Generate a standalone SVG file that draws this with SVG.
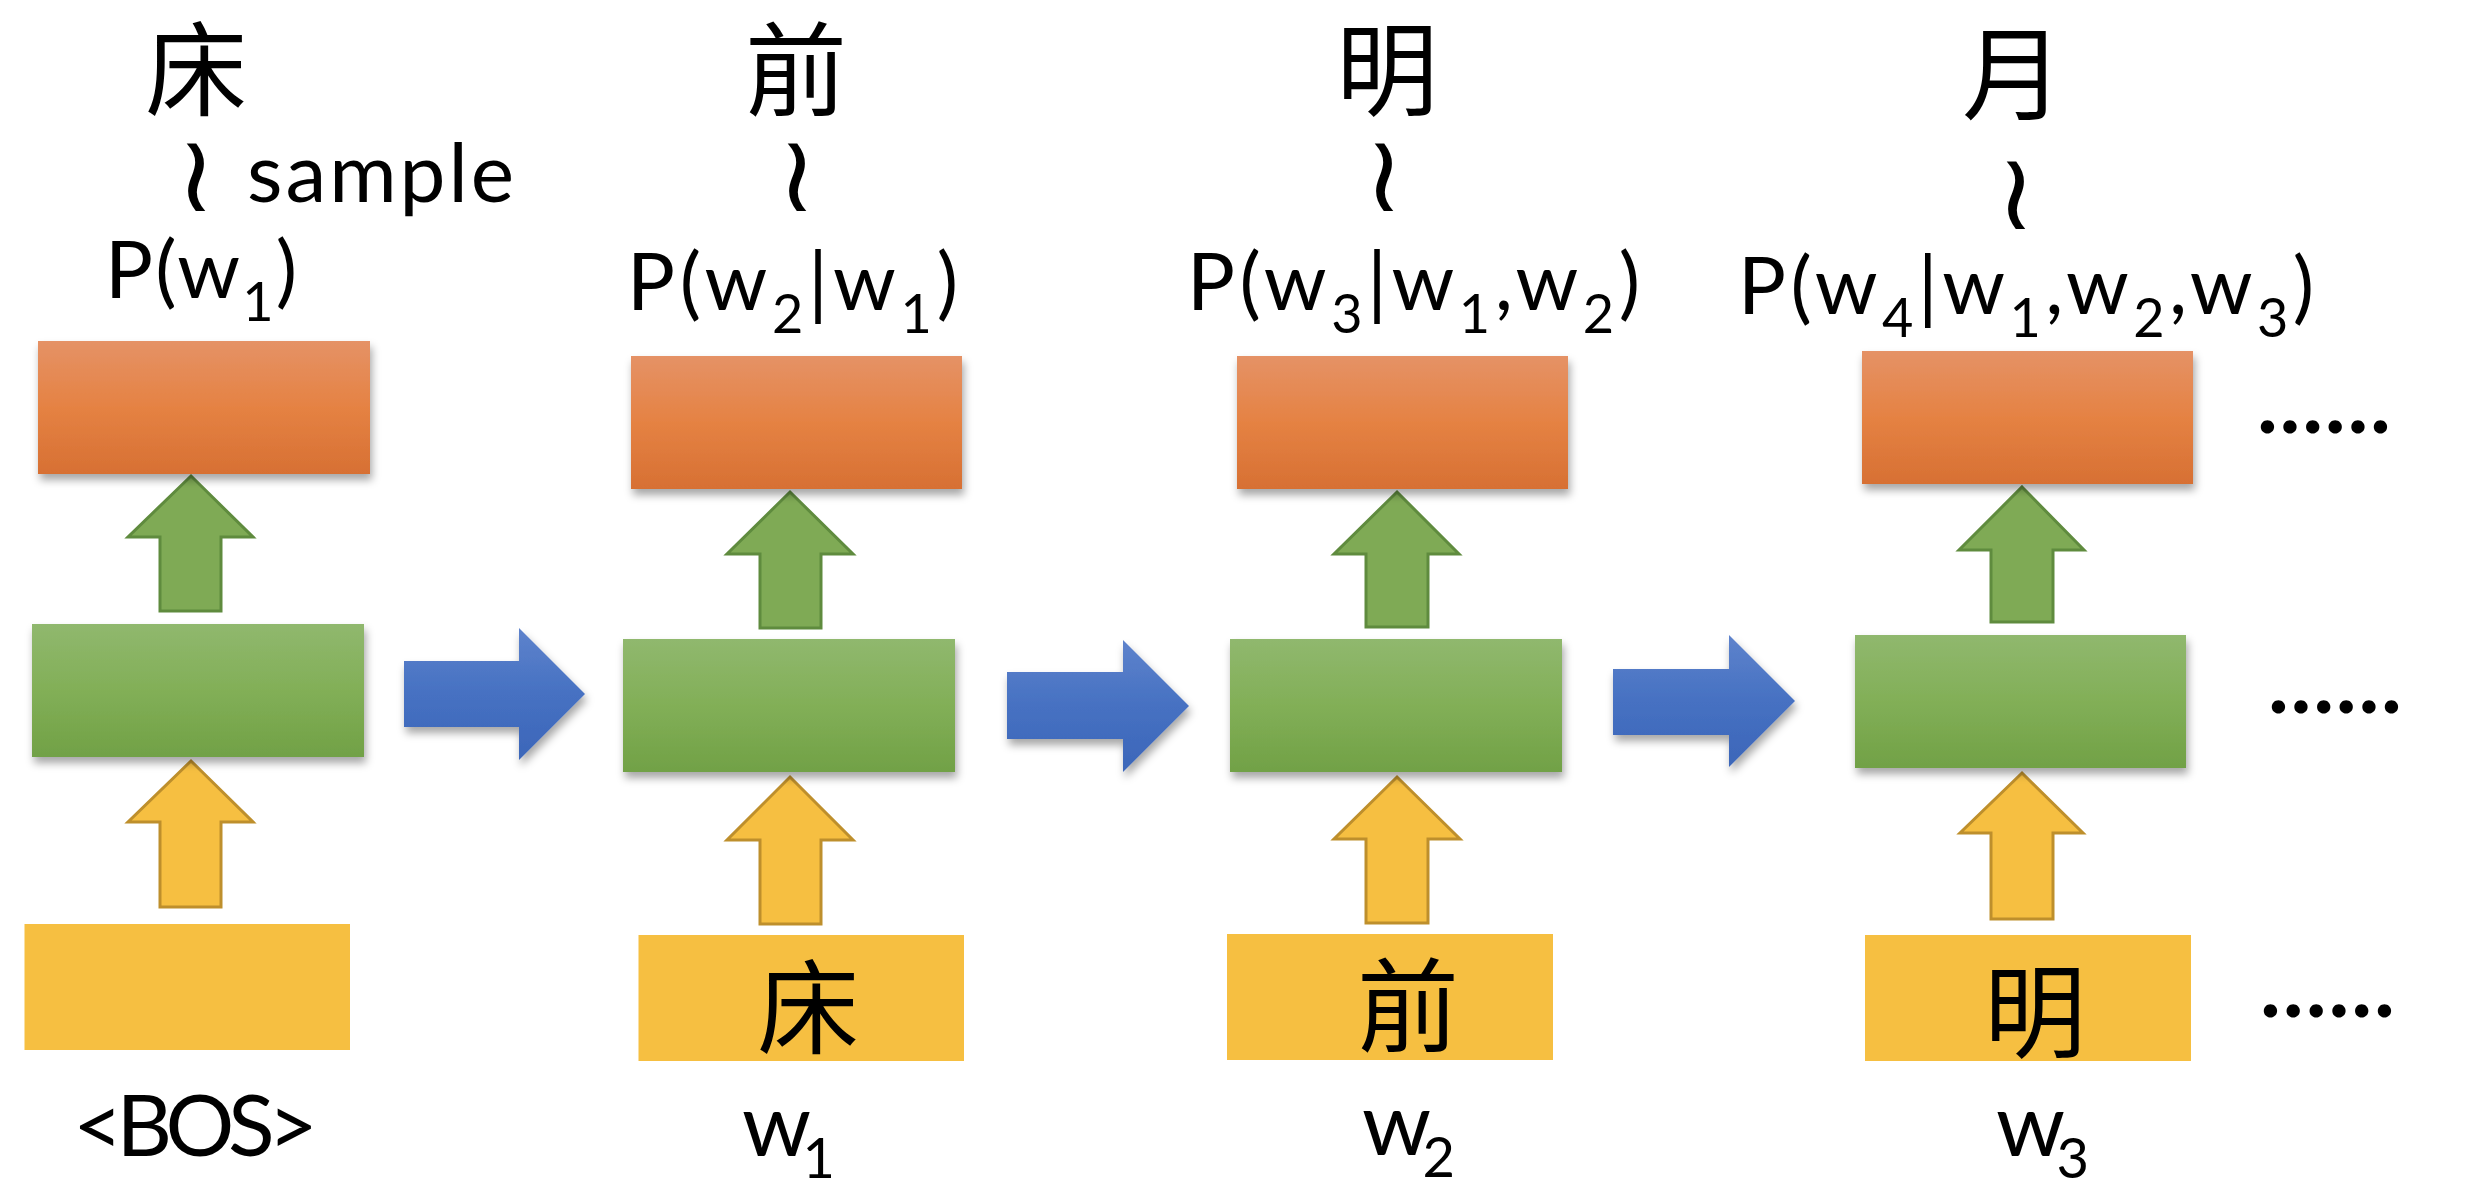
<svg xmlns="http://www.w3.org/2000/svg" width="2490" height="1204" viewBox="0 0 2490 1204">
<defs>
<linearGradient id="gOrange" x1="0" y1="0" x2="0" y2="1">
<stop offset="0" stop-color="#E59266"/>
<stop offset="0.5" stop-color="#E58243"/>
<stop offset="1" stop-color="#D77033"/>
</linearGradient>
<linearGradient id="gGreen" x1="0" y1="0" x2="0" y2="1">
<stop offset="0" stop-color="#90B86E"/>
<stop offset="0.5" stop-color="#82AF57"/>
<stop offset="1" stop-color="#71A146"/>
</linearGradient>
<linearGradient id="gBlue" x1="0" y1="0" x2="0" y2="1">
<stop offset="0" stop-color="#5E83CC"/>
<stop offset="0.5" stop-color="#4671C2"/>
<stop offset="1" stop-color="#3C66B9"/>
</linearGradient>
<filter id="shadow" x="-10%" y="-10%" width="125%" height="135%">
<feDropShadow dx="2" dy="6" stdDeviation="4" flood-color="#000" flood-opacity="0.35"/>
</filter>
</defs>
<style>
.orange{fill:url(#gOrange);filter:url(#shadow)}
.green{fill:url(#gGreen);filter:url(#shadow)}
.yellow{fill:#F6BF41}
.garrow{fill:#7FAA55;stroke:#5F8B3E;stroke-width:3}
.yarrow{fill:#F6BF41;stroke:#BE8F2C;stroke-width:3}
.barrow{fill:url(#gBlue);filter:url(#shadow)}
.lbl{font-family:Lato,"Liberation Sans",sans-serif;fill:#000}
.cjk{font-family:"Noto Sans CJK TC","Noto Sans CJK SC",sans-serif;font-size:102px;fill:#000;text-anchor:middle}
.tilde{font-family:"DejaVu Sans",sans-serif;font-size:108px;fill:#000;text-anchor:middle}
.dots{font-family:Lato,"Liberation Sans",sans-serif;font-size:88px;font-weight:bold;fill:#000}
</style>
<rect width="2490" height="1204" fill="#fff"/>

<g id="connectors">
<path class="garrow" d="M191,476 L253,537 L221,537 L221,611 L160,611 L160,537 L128,537 Z"/>
<path class="garrow" d="M790,492 L853,554 L821,554 L821,628 L760,628 L760,554 L727,554 Z"/>
<path class="garrow" d="M1397,492 L1459,554 L1428,554 L1428,627 L1366,627 L1366,554 L1334,554 Z"/>
<path class="garrow" d="M2022,487 L2084,550 L2053,550 L2053,622 L1991,622 L1991,550 L1959,550 Z"/>
<path class="yarrow" d="M191,761 L253,822 L221,822 L221,907 L160,907 L160,822 L128,822 Z"/>
<path class="yarrow" d="M790,777 L853,840 L821,840 L821,924 L760,924 L760,840 L727,840 Z"/>
<path class="yarrow" d="M1397,777 L1460,839 L1428,839 L1428,923 L1366,923 L1366,839 L1334,839 Z"/>
<path class="yarrow" d="M2022,773 L2083,833 L2053,833 L2053,919 L1991,919 L1991,833 L1960,833 Z"/>
<path class="barrow" d="M404,661 L519,661 L519,628 L585,694 L519,760 L519,727 L404,727 Z"/>
<path class="barrow" d="M1007,672 L1123,672 L1123,640 L1189,706 L1123,772 L1123,739 L1007,739 Z"/>
<path class="barrow" d="M1613,669 L1729,669 L1729,635 L1795,701 L1729,767 L1729,735 L1613,735 Z"/>
</g>

<g id="output1">
<rect class="orange" x="38" y="341" width="332" height="133"/>
<text class="cjk" x="196" y="108">床</text>
<text class="tilde" x="196" y="211">≀</text>
<text class="lbl" x="247" y="202" font-size="82" textLength="267" lengthAdjust="spacing">sample</text>
<text class="lbl" x="105" y="298" font-size="80" textLength="192" lengthAdjust="spacing">P(w<tspan dy="23" font-size="54">1</tspan><tspan dy="-23">)</tspan></text>
</g>
<g id="output2">
<rect class="orange" x="631" y="356" width="331" height="133"/>
<text class="cjk" x="796" y="108">前</text>
<text class="tilde" x="797" y="211">≀</text>
<text class="lbl" x="627" y="310" font-size="80" textLength="331" lengthAdjust="spacing">P(w<tspan dy="23" font-size="54">2</tspan><tspan dy="-23">|w</tspan><tspan dy="23" font-size="54">1</tspan><tspan dy="-23">)</tspan></text>
</g>
<g id="output3">
<rect class="orange" x="1237" y="356" width="331" height="133"/>
<text class="cjk" x="1387" y="108">明</text>
<text class="tilde" x="1384" y="211">≀</text>
<text class="lbl" x="1187" y="310" font-size="80" textLength="453" lengthAdjust="spacing">P(w<tspan dy="23" font-size="54">3</tspan><tspan dy="-23">|w</tspan><tspan dy="23" font-size="54">1</tspan><tspan dy="-23">,w</tspan><tspan dy="23" font-size="54">2</tspan><tspan dy="-23">)</tspan></text>
</g>
<g id="output4">
<rect class="orange" x="1862" y="351" width="331" height="133"/>
<text class="cjk" x="2013" y="112">月</text>
<text class="tilde" x="2016" y="229">≀</text>
<text class="lbl" x="1738" y="314" font-size="80" textLength="576" lengthAdjust="spacing">P(w<tspan dy="23" font-size="54">4</tspan><tspan dy="-23">|w</tspan><tspan dy="23" font-size="54">1</tspan><tspan dy="-23">,w</tspan><tspan dy="23" font-size="54">2</tspan><tspan dy="-23">,w</tspan><tspan dy="23" font-size="54">3</tspan><tspan dy="-23">)</tspan></text>
<text class="dots" x="2257" y="433" textLength="134" lengthAdjust="spacing">......</text>
</g>

<g id="hidden1"><rect class="green" x="32" y="624" width="332" height="133"/></g>
<g id="hidden2"><rect class="green" x="623" y="639" width="332" height="133"/></g>
<g id="hidden3"><rect class="green" x="1230" y="639" width="332" height="133"/></g>
<g id="hidden4"><rect class="green" x="1855" y="635" width="331" height="133"/>
<text class="dots" x="2268" y="713" textLength="134" lengthAdjust="spacing">......</text></g>

<g id="input1">
<rect class="yellow" x="24.5" y="924" width="325.5" height="126"/>
<text class="lbl" x="73" y="1156" font-size="86" textLength="245" lengthAdjust="spacing">&lt;BOS&gt;</text>
</g>
<g id="input2">
<rect class="yellow" x="638.5" y="935" width="325.5" height="126"/>
<text class="cjk" x="808" y="1046">床</text>
<text class="lbl" x="742" y="1156" font-size="88" textLength="93" lengthAdjust="spacing">w<tspan dy="22" font-size="56">1</tspan></text>
</g>
<g id="input3">
<rect class="yellow" x="1227" y="934" width="326" height="126"/>
<text class="cjk" x="1408" y="1044">前</text>
<text class="lbl" x="1362" y="1155" font-size="88" textLength="93" lengthAdjust="spacing">w<tspan dy="22" font-size="56">2</tspan></text>
</g>
<g id="input4">
<rect class="yellow" x="1865" y="935" width="326" height="126"/>
<text class="cjk" x="2035" y="1050">明</text>
<text class="lbl" x="1996" y="1156" font-size="88" textLength="93" lengthAdjust="spacing">w<tspan dy="22" font-size="56">3</tspan></text>
<text class="dots" x="2260" y="1017" textLength="135" lengthAdjust="spacing">......</text>
</g>
</svg>
